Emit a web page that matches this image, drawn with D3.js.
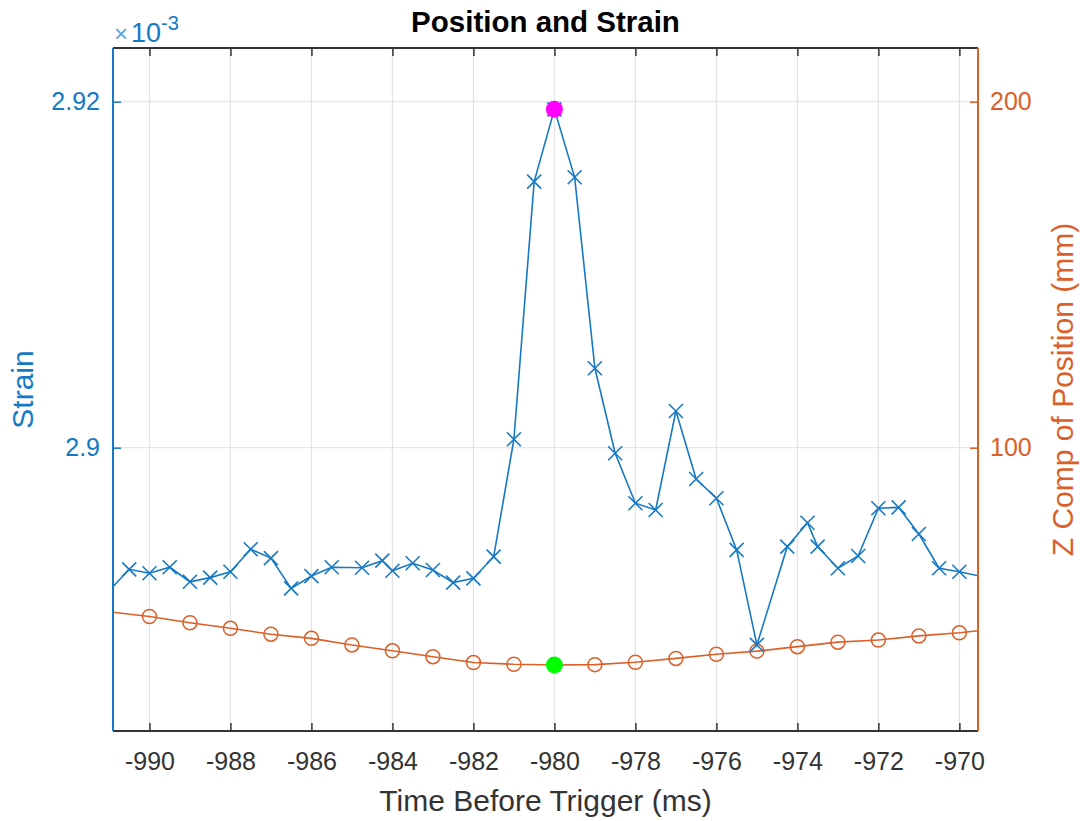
<!DOCTYPE html>
<html>
<head>
<meta charset="utf-8">
<script src="https://cdn.jsdelivr.net/npm/d3@7"></script>
<style>
  body { margin: 0; background: #fff; }
  svg text { font-family: "Liberation Sans", Arial, Helvetica, sans-serif; }
</style>
</head>
<body>
<div id="chart"></div>
<script>
// strain samples (time in ms, strain in units of 10^-3)
const strainTime = [-991, -990.5, -990, -989.5, -989, -988.5, -988, -987.5, -987, -986.5,
    -986, -985.5, -984.75, -984.25, -984, -983.5, -983, -982.5, -982, -981.5,
    -981, -980.5, -980, -979.5, -979, -978.5, -978, -977.5, -977, -976.5,
    -976, -975.5, -975, -974.25, -973.75, -973.5, -973, -972.5, -972, -971.5,
    -971, -970.5, -970, -969.5];
const strainValues = [2.89172, 2.89297, 2.89274, 2.89309, 2.89225, 2.89249, 2.89283, 2.89413, 2.89362, 2.89187,
    2.89258, 2.89309, 2.89306, 2.89347, 2.89289, 2.89332, 2.89293, 2.89220, 2.89245, 2.89370,
    2.90049, 2.91538, 2.91956, 2.91563, 2.90459, 2.89968, 2.89679, 2.89640, 2.90212, 2.89819,
    2.89708, 2.89409, 2.88860, 2.89428, 2.89566, 2.89428, 2.89303, 2.89374, 2.89650, 2.89655,
    2.89501, 2.89303, 2.89283, 2.89258];

// z component of position (mm)
const positionTime = [-991, -990, -989, -988, -987, -986, -985, -984, -983, -982, -981, -980,
    -979, -978, -977, -976, -975, -974, -973, -972, -971, -970, -969];
const positionValues = [52.6, 51.2, 49.4, 47.8, 46.1, 44.9, 43.0, 41.3, 39.6, 37.9, 37.4, 37.2,
    37.3, 38.0, 39.1, 40.3, 41.2, 42.5, 43.8, 44.4, 45.6, 46.5, 47.8];

const xTicks = [-990, -988, -986, -984, -982, -980, -978, -976, -974, -972, -970];
const strainTicks = [2.9, 2.92];
const positionTicks = [100, 200];
const peakTime = -980;

const blue = "#1679c4", orange = "#dc5f28", axisGray = "#333333";

const W = 1080, H = 821;
const margin = {top: 48, right: 102, bottom: 90, left: 113},
    width = W - margin.left - margin.right,
    height = H - margin.top - margin.bottom;

const svg = d3.select("#chart")
    .append("svg")
    .attr("width", W)
    .attr("height", H);

const g = svg.append("g")
    .attr("transform", `translate(${margin.left},${margin.top})`);

// scales
const x = d3.scaleLinear().domain([-990.9, -969.54]).range([0, width]);
const yL = d3.scaleLinear().domain([2.883624, 2.923104]).range([height, 0]);
const yR = d3.scaleLinear().domain([18.12, 215.52]).range([height, 0]);

// grid
g.append("g")
    .selectAll("line")
    .data(xTicks)
    .join("line")
    .attr("x1", d => x(d)).attr("x2", d => x(d))
    .attr("y1", 0).attr("y2", height)
    .attr("stroke", "#e3e3e3")
    .attr("stroke-width", 1.2);

g.append("g")
    .selectAll("line")
    .data(strainTicks)
    .join("line")
    .attr("x1", 0).attr("x2", width)
    .attr("y1", d => yL(d)).attr("y2", d => yL(d))
    .attr("stroke", "#d9e9f5")
    .attr("stroke-width", 1.2);

// axes
const xAxis = g.append("g")
    .attr("transform", `translate(0,${height})`)
    .call(d3.axisBottom(x).tickValues(xTicks).tickSize(-8).tickSizeOuter(0)
        .tickPadding(21).tickFormat(d => String(d)));
xAxis.select(".domain").remove();
xAxis.selectAll("line").attr("stroke", axisGray).attr("stroke-width", 1.5);
xAxis.selectAll("text").attr("fill", axisGray).style("font-size", "25px");

const xTop = g.append("g")
    .call(d3.axisTop(x).tickValues(xTicks).tickSize(-8).tickSizeOuter(0).tickFormat(""));
xTop.select(".domain").remove();
xTop.selectAll("line").attr("stroke", axisGray).attr("stroke-width", 1.5);

const yAxisL = g.append("g")
    .call(d3.axisLeft(yL).tickValues(strainTicks).tickSize(-8).tickSizeOuter(0)
        .tickPadding(13).tickFormat(d => String(d)));
yAxisL.select(".domain").remove();
yAxisL.selectAll("line").attr("stroke", blue).attr("stroke-width", 1.5);
yAxisL.selectAll("text").attr("fill", blue).style("font-size", "25px");

const yAxisR = g.append("g")
    .attr("transform", `translate(${width},0)`)
    .call(d3.axisRight(yR).tickValues(positionTicks).tickSize(-8).tickSizeOuter(0)
        .tickPadding(12).tickFormat(d => String(d)));
yAxisR.select(".domain").remove();
yAxisR.selectAll("line").attr("stroke", orange).attr("stroke-width", 1.5);
yAxisR.selectAll("text").attr("fill", orange).style("font-size", "25px");

// clip for the lines
svg.append("defs").append("clipPath")
    .attr("id", "plotClip")
    .append("rect")
    .attr("width", width)
    .attr("height", height);

const inView = t => t >= x.domain()[0] && t <= x.domain()[1];

// position line (right axis)
const posData = positionTime.map((t, i) => ({t: t, v: positionValues[i]}));
const posLine = d3.line().x(d => x(d.t)).y(d => yR(d.v));

g.append("path")
    .datum(posData)
    .attr("clip-path", "url(#plotClip)")
    .attr("fill", "none")
    .attr("stroke", orange)
    .attr("stroke-width", 1.6)
    .attr("d", posLine);

g.append("g")
    .selectAll("circle")
    .data(posData.filter(d => inView(d.t)))
    .join("circle")
    .attr("cx", d => x(d.t))
    .attr("cy", d => yR(d.v))
    .attr("r", 7)
    .attr("fill", "none")
    .attr("stroke", orange)
    .attr("stroke-width", 1.5);

// strain line (left axis)
const strainData = strainTime.map((t, i) => ({t: t, v: strainValues[i]}));
const strainLine = d3.line().x(d => x(d.t)).y(d => yL(d.v));

g.append("path")
    .datum(strainData)
    .attr("clip-path", "url(#plotClip)")
    .attr("fill", "none")
    .attr("stroke", blue)
    .attr("stroke-width", 1.6)
    .attr("d", strainLine);

g.append("g")
    .selectAll("path")
    .data(strainData.filter(d => inView(d.t)))
    .join("path")
    .attr("transform", d => `translate(${x(d.t)},${yL(d.v)})`)
    .attr("d", "M-7,-7L7,7M-7,7L7,-7")
    .attr("fill", "none")
    .attr("stroke", blue)
    .attr("stroke-width", 1.6);

// highlighted samples at the strain peak
const peakStrain = strainValues[strainTime.indexOf(peakTime)];
const peakPos = positionValues[positionTime.indexOf(peakTime)];

g.append("circle")
    .attr("cx", x(peakTime)).attr("cy", yL(peakStrain))
    .attr("r", 8.5)
    .attr("fill", "#FF00FF");

g.append("circle")
    .attr("cx", x(peakTime)).attr("cy", yR(peakPos))
    .attr("r", 8.5)
    .attr("fill", "#00FF00");

// box
g.append("line").attr("x1", 0).attr("x2", width).attr("y1", 0).attr("y2", 0)
    .attr("stroke", axisGray).attr("stroke-width", 2);
g.append("line").attr("x1", 0).attr("x2", width).attr("y1", height).attr("y2", height)
    .attr("stroke", axisGray).attr("stroke-width", 2);
g.append("line").attr("x1", 0).attr("x2", 0).attr("y1", 0).attr("y2", height)
    .attr("stroke", blue).attr("stroke-width", 2);
g.append("line").attr("x1", width).attr("x2", width).attr("y1", 0).attr("y2", height)
    .attr("stroke", orange).attr("stroke-width", 2);

// exponent label
const expo = svg.append("text")
    .attr("x", margin.left + 1)
    .attr("y", 42)
    .attr("fill", blue)
    .style("font-size", "27px");
expo.append("tspan").text("\u00d7").style("font-size", "24px").attr("fill", "#5aa6da");
expo.append("tspan").text("10").attr("dx", 3);
expo.append("tspan").text("-3").attr("dy", -12).style("font-size", "20px");

// title and labels
svg.append("text")
    .attr("x", margin.left + width / 2)
    .attr("y", 32)
    .attr("text-anchor", "middle")
    .attr("fill", "#000")
    .style("font-size", "29.5px")
    .style("font-weight", "bold")
    .text("Position and Strain");

svg.append("text")
    .attr("x", margin.left + width / 2)
    .attr("y", 811)
    .attr("text-anchor", "middle")
    .attr("fill", axisGray)
    .style("font-size", "30px")
    .text("Time Before Trigger (ms)");

svg.append("text")
    .attr("transform", `translate(33,${margin.top + height / 2}) rotate(-90)`)
    .attr("text-anchor", "middle")
    .attr("fill", blue)
    .style("font-size", "30px")
    .text("Strain");

svg.append("text")
    .attr("transform", `translate(1073,${margin.top + height / 2}) rotate(-90)`)
    .attr("text-anchor", "middle")
    .attr("fill", orange)
    .style("font-size", "30px")
    .text("Z Comp of Position (mm)");
</script>
</body>
</html>
